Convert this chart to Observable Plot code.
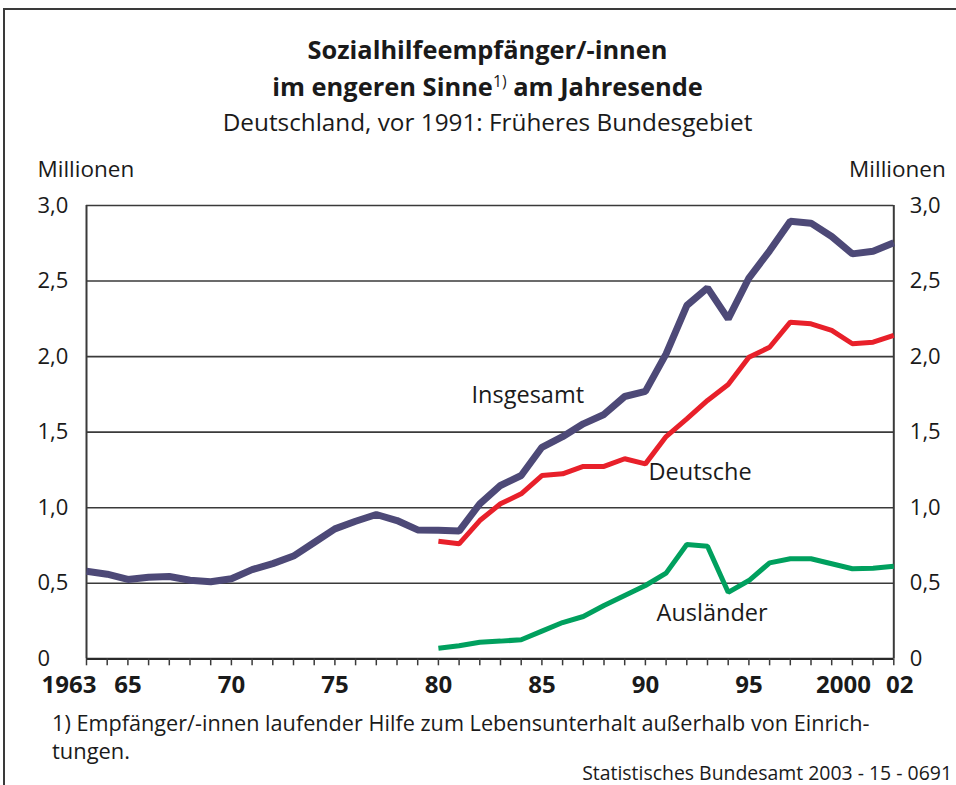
<!DOCTYPE html>
<html>
<head>
<meta charset="utf-8">
<script src="https://cdn.jsdelivr.net/npm/d3@7"></script>
<script src="https://cdn.jsdelivr.net/npm/@observablehq/plot@0.6"></script>
<style>
  html, body { margin: 0; padding: 0; background: #fff; }
  body { width: 956px; height: 785px; overflow: hidden; position: relative; font-family: "Open Sans", "Noto Sans", sans-serif; color: #1a1a1a; }
  .frame { position: absolute; left: 3px; top: 8px; width: 1100px; height: 1100px; border-left: 2px solid #3a3a3a; border-top: 2px solid #3a3a3a; }
  .line { position: absolute; white-space: nowrap; line-height: 1.25; }
  .center { left: 0; width: 975px; text-align: center; }
  .line span { display: inline-block; }
  sup { font-size: 0.62em; vertical-align: 0.55em; line-height: 0; }
  #chart { position: absolute; left: 0; top: 150px; }
</style>
</head>
<body>
<div class="frame"></div>
<div class="line center" data-cy="50"><span data-w="360" style="font-weight:700;font-size:23px">Sozialhilfeempfänger/-innen</span></div>
<div class="line center" data-cy="87"><span data-w="431" style="font-weight:700;font-size:23px">im engeren Sinne<sup style="font-weight:400">1)</sup> am Jahresende</span></div>
<div class="line center" data-cy="122"><span data-w="530" style="font-size:22px">Deutschland, vor 1991: Früheres Bundesgebiet</span></div>
<div class="line" data-cy="722" style="left:52px"><span data-w="818" style="font-size:20px">1) Empfänger/-innen laufender Hilfe zum Lebensunterhalt außerhalb von Einrich-</span></div>
<div class="line" data-cy="750" style="left:52px"><span data-w="78" style="font-size:20px">tungen.</span></div>
<div class="line" data-cy="773" style="right:4px;line-height:1.05"><span data-w="370" style="font-size:18px">Statistisches Bundesamt 2003 - 15 - 0691</span></div>
<div id="chart"></div>
<script>
// ---- data ----
const yearsAll = [1963,1964,1965,1966,1967,1968,1969,1970,1971,1972,1973,1974,1975,1976,1977,1978,1979,1980,1981,1982,1983,1984,1985,1986,1987,1988,1989,1990,1991,1992,1993,1994,1995,1996,1997,1998,1999,2000,2001,2002];
const insgesamt = [0.58,0.56,0.525,0.54,0.545,0.52,0.51,0.53,0.59,0.63,0.68,0.77,0.86,0.91,0.955,0.915,0.853,0.85,0.845,1.026,1.147,1.213,1.40,1.47,1.555,1.617,1.736,1.77,2.018,2.338,2.455,2.25,2.52,2.70,2.896,2.883,2.795,2.68,2.697,2.753];
const yearsSplit = [1980,1981,1982,1983,1984,1985,1986,1987,1988,1989,1990,1991,1992,1993,1994,1995,1996,1997,1998,1999,2000,2001,2002];
const deutsche = [0.778,0.761,0.915,1.026,1.092,1.213,1.224,1.273,1.273,1.324,1.29,1.471,1.588,1.71,1.815,1.996,2.062,2.228,2.217,2.173,2.085,2.095,2.14];
const auslaender = [0.07,0.086,0.11,0.117,0.126,0.183,0.24,0.28,0.353,0.419,0.485,0.567,0.756,0.745,0.44,0.518,0.635,0.662,0.662,0.629,0.596,0.60,0.613];
const yTicks = [0, 0.5, 1, 1.5, 2, 2.5, 3];
const yTickLabels = ["0", "0,5", "1,0", "1,5", "2,0", "2,5", "3,0"];
const xLabelYears = [1965, 1970, 1975, 1980, 1985, 1990, 1995];
const xLabelTexts = ["65", "70", "75", "80", "85", "90", "95"];
const seriesNames = ["Insgesamt", "Deutsche", "Ausländer"];
const seriesColors = ["#4d4977", "#e8202a", "#00a05e"];

// ---- tables ----
const rowsIns = yearsAll.map((y, i) => ({year: y, value: insgesamt[i]}));
const rowsDeu = yearsSplit.map((y, i) => ({year: y, value: deutsche[i]}));
const rowsAus = yearsSplit.map((y, i) => ({year: y, value: auslaender[i]}));
const yRows = yTicks.map((v, i) => ({v, t: yTickLabels[i]}));
const xRows = xLabelYears.map((v, i) => ({v, t: xLabelTexts[i]}));

const ink = "#1a1a1a";
const grid = "#3a3a3a";

const plot = Plot.plot({
  width: 956,
  height: 560,
  marginLeft: 86,
  marginRight: 62.7,
  marginTop: 55,
  marginBottom: 51.7,
  style: {fontFamily: "'Open Sans', 'Noto Sans', sans-serif", color: ink, background: "transparent"},
  x: {domain: [yearsAll[0], yearsAll[yearsAll.length - 1]], axis: null},
  y: {domain: [0, 3], axis: null},
  marks: [
    Plot.ruleY(yTicks.filter(v => v > 0), {stroke: grid, strokeWidth: 1.6}),
    Plot.ruleX([yearsAll[0], yearsAll[yearsAll.length - 1]], {stroke: grid, strokeWidth: 2}),
    Plot.ruleY([0], {stroke: "#2a2a2a", strokeWidth: 2.2}),
    Plot.axisX(yearsAll, {tickSize: 7, tickFormat: () => "", stroke: grid, strokeWidth: 1.5, label: null}),
    Plot.line(rowsAus, {x: "year", y: "value", stroke: seriesColors[2], strokeWidth: 5, strokeLinejoin: "miter", strokeLinecap: "butt"}),
    Plot.line(rowsDeu, {x: "year", y: "value", stroke: seriesColors[1], strokeWidth: 5, strokeLinejoin: "miter", strokeLinecap: "butt"}),
    Plot.line(rowsIns, {x: "year", y: "value", stroke: seriesColors[0], strokeWidth: 7, strokeLinejoin: "miter", strokeLinecap: "butt"}),
    // y tick labels left / right
    Plot.text(yRows, {y: "v", text: "t", frameAnchor: "left", dx: -49, textAnchor: "start", lineAnchor: "middle", fontSize: 22, fill: ink}),
    Plot.text(yRows, {y: "v", text: "t", frameAnchor: "right", dx: 16, textAnchor: "start", lineAnchor: "middle", fontSize: 22, fill: ink}),
    // unit labels
    Plot.text(["Millionen"], {frameAnchor: "top-left", dx: -49, dy: -36, textAnchor: "start", lineAnchor: "middle", fontSize: 22.5, fill: ink}),
    Plot.text(["Millionen"], {frameAnchor: "top-right", dx: 52, dy: -36, textAnchor: "end", lineAnchor: "middle", fontSize: 22.5, fill: ink}),
    // x labels
    Plot.text(xRows, {x: "v", text: "t", frameAnchor: "bottom", dy: 27, lineAnchor: "middle", fontSize: 24, fontWeight: 700, fill: ink}),
    Plot.text([yearsAll[0]], {x: d => d, text: d => String(d), frameAnchor: "bottom", dx: 10, dy: 27, textAnchor: "end", lineAnchor: "middle", fontSize: 24, fontWeight: 700, fill: ink}),
    Plot.text([2000], {x: d => d, text: d => String(d), frameAnchor: "bottom", dx: -9, dy: 27, lineAnchor: "middle", fontSize: 24, fontWeight: 700, fill: ink}),
    Plot.text([yearsAll[yearsAll.length - 1]], {x: d => d, text: () => "02", frameAnchor: "bottom", dx: 6, dy: 27, lineAnchor: "middle", fontSize: 24, fontWeight: 700, fill: ink}),
    // series labels
    Plot.text([seriesNames[0]], {x: 1981.6, y: 1.742, textAnchor: "start", lineAnchor: "middle", fontSize: 23.5, fill: ink}),
    Plot.text([seriesNames[1]], {x: 1990.15, y: 1.233, textAnchor: "start", lineAnchor: "middle", fontSize: 23.5, fill: ink}),
    Plot.text([seriesNames[2]], {x: 1990.54, y: 0.302, textAnchor: "start", lineAnchor: "middle", fontSize: 23.5, fill: ink})
  ]
});
document.getElementById("chart").appendChild(plot);

// fit HTML text to measured widths and vertical centers
document.querySelectorAll(".line").forEach(div => {
  const span = div.querySelector("span");
  const target = +span.dataset.w;
  const fs = parseFloat(getComputedStyle(span).fontSize);
  const w = span.getBoundingClientRect().width;
  if (w > 0) span.style.fontSize = (fs * target / w) + "px";
  const cy = +div.dataset.cy;
  div.style.top = (cy - div.offsetHeight / 2) + "px";
});
</script>
</body>
</html>
